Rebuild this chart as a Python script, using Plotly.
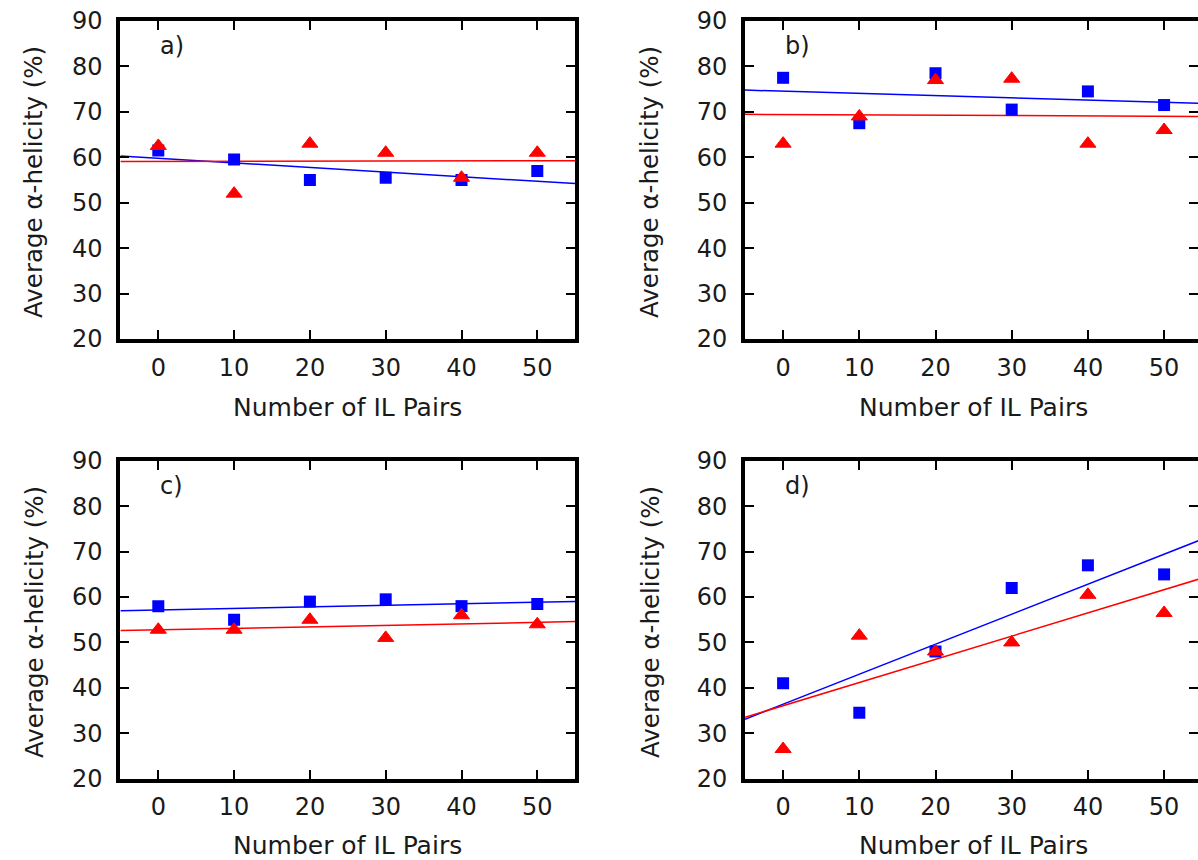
import numpy as np
import plotly.graph_objects as go

# ---------------- data ----------------
il_pairs = [0, 10, 20, 30, 40, 50]

a_blue = [61.5, 59.5, 55.0, 55.5, 55.0, 57.0]
a_red = [62.5, 52.0, 63.0, 61.0, 55.5, 61.0]

b_blue = [77.5, 67.5, 78.5, 70.5, 74.5, 71.5]
b_red = [63.0, 69.0, 77.0, 77.3, 63.0, 66.0]

c_blue = [58.0, 55.0, 59.0, 59.5, 58.0, 58.5]
c_red = [52.8, 52.8, 55.0, 51.0, 56.0, 54.0]

d_blue = [41.0, 34.5, 48.0, 62.0, 67.0, 65.0]
d_red = [26.5, 51.5, 48.0, 50.0, 60.5, 56.5]

panel_labels = ["a)", "b)", "c)", "d)"]
x_tick_vals = [0, 10, 20, 30, 40, 50]
y_tick_vals = [20, 30, 40, 50, 60, 70, 80, 90]
x_title = "Number of IL Pairs"
y_title = "Average α-helicity (%)"
fit_span = [-5, 55]

# ---------------- figure ----------------
W, H = 1198, 860
FONT = "DejaVu Sans"
TXT = "#1a1a1a"
BLUE = "#0000ff"
RED = "#ff0000"

fig = go.Figure()

panels = [
    (a_blue, a_red, panel_labels[0]),
    (b_blue, b_red, panel_labels[1]),
    (c_blue, c_red, panel_labels[2]),
    (d_blue, d_red, panel_labels[3]),
]

# pixel geometry of the plot boxes
left_x = [120.4 / W, 575.2 / W]
right_x = [745.0 / W, 1.0]
right_xmax = -5 + (W - 745.0) / 7.62
top_y = [(H - 339) / H, (H - 21) / H]
bot_y = [(H - 778.5) / H, (H - 461) / H]

geoms = [
    (left_x, top_y, [-5, 55]),
    (right_x, top_y, [-5, right_xmax]),
    (left_x, bot_y, [-5, 55]),
    (right_x, bot_y, [-5, right_xmax]),
]

axis_common = dict(
    ticks="inside", ticklen=9, tickwidth=2, tickcolor="black",
    showline=True, linewidth=4, linecolor="black", mirror="ticks",
    showgrid=False, zeroline=False, automargin=False,
    tickfont=dict(family=FONT, size=24, color=TXT),
)

annotations = []
for i, ((blue, red, lab), (xd, yd, xr)) in enumerate(zip(panels, geoms)):
    n = "" if i == 0 else str(i + 1)
    xa, ya = "x" + n, "y" + n
    for vals, col in ((blue, BLUE), (red, RED)):
        slope, icpt = np.polyfit(il_pairs, vals, 1)
        fig.add_trace(go.Scatter(
            x=fit_span, y=[icpt + slope * v for v in fit_span],
            mode="lines", line=dict(color=col, width=1.5),
            xaxis=xa, yaxis=ya, showlegend=False, hoverinfo="skip"))
    fig.add_trace(go.Scatter(
        x=il_pairs, y=blue, mode="markers",
        marker=dict(symbol="square", size=12, color=BLUE, line=dict(width=0)),
        xaxis=xa, yaxis=ya, showlegend=False))
    fig.add_trace(go.Scatter(
        x=il_pairs, y=red, mode="markers",
        marker=dict(symbol="triangle-up", size=14, color=RED,
                    line=dict(width=1, color=RED)),
        xaxis=xa, yaxis=ya, showlegend=False))

    fig.layout["xaxis" + n] = dict(domain=xd, range=xr, anchor=ya,
                                   tickvals=x_tick_vals, ticklabelstandoff=4,
                                   **axis_common)
    fig.layout["yaxis" + n] = dict(domain=yd, range=[20, 90], anchor=xa,
                                   tickvals=y_tick_vals, ticklabelstandoff=9,
                                   **axis_common)

    annotations.append(dict(
        text=lab, x=0, y=84.5, xref=xa, yref=ya, xanchor="left",
        yanchor="middle", showarrow=False,
        font=dict(family=FONT, size=24, color=TXT)))

    # axis titles
    xc = 347.8 if i in (0, 2) else 973.5
    x_title_px_y = 407 if i < 2 else 845
    annotations.append(dict(
        text=x_title, x=xc / W, y=(H - x_title_px_y) / H, xref="paper",
        yref="paper", xanchor="center", yanchor="middle", showarrow=False,
        font=dict(family=FONT, size=25, color=TXT)))
    y_title_px_x = 34 if i in (0, 2) else 650
    y_title_px_y = 182 if i < 2 else 622
    annotations.append(dict(
        text=y_title, x=y_title_px_x / W, y=(H - y_title_px_y) / H,
        xref="paper", yref="paper", xanchor="center", yanchor="middle",
        textangle=-90, showarrow=False,
        font=dict(family=FONT, size=24.5, color=TXT)))

fig.update_layout(
    width=W, height=H,
    margin=dict(l=0, r=0, t=0, b=0, autoexpand=False),
    paper_bgcolor="white", plot_bgcolor="white",
    annotations=annotations,
    showlegend=False,
)

fig.write_html("out.html")
